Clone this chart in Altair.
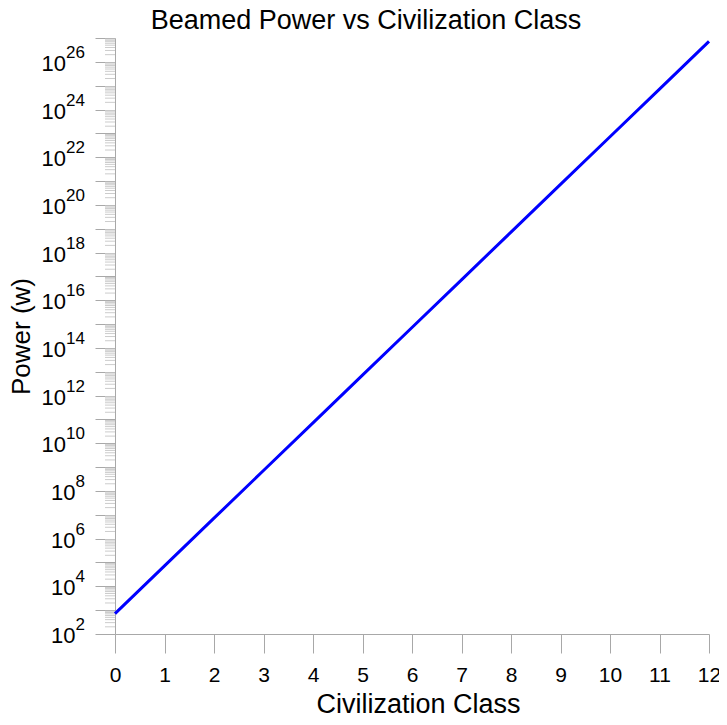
import altair as alt
import pandas as pd

# Data
classes = [0, 1, 2, 3, 4, 5, 6, 7, 8, 9, 10, 11, 12]
power_w = [7.2e2, 7.2e4, 7.2e6, 7.2e8, 7.2e10, 7.2e12, 7.2e14, 7.2e16,
           7.2e18, 7.2e20, 7.2e22, 7.2e24, 7.2e26]
x_ticks = [0, 1, 2, 3, 4, 5, 6, 7, 8, 9, 10, 11, 12]
major_exps = list(range(2, 28))
label_exps = [2, 4, 6, 8, 10, 12, 14, 16, 18, 20, 22, 24, 26]
minor_mults = [2, 3, 4, 5, 6, 7, 8, 9]
title_text = ["Beamed Power vs Civilization Class"]

FONT = "Liberation Sans"
AXIS_GREY = "#a8a8a8"
MINOR_GREY = "#cccccc"
W, H = 594, 596

df = pd.DataFrame({"cls": classes, "power": power_w})
minor_df = pd.DataFrame({"v": [m * 10.0 ** e for e in range(2, 27) for m in minor_mults]})
lab_df = pd.DataFrame({"e": label_exps})
lab_df["v"] = [10.0 ** e for e in label_exps]
lab_df["es"] = lab_df["e"].astype(str)
title_df = pd.DataFrame({"t": title_text})

yscale = alt.Scale(type="log", domain=[1e2, 1e27], nice=False)
yaxis = alt.Axis(
    values=[10.0 ** e for e in major_exps],
    labels=False,
    tickSize=20,
    tickColor=AXIS_GREY,
    domainColor=AXIS_GREY,
    grid=False,
    title="Power (w)",
    titleFont=FONT,
    titleFontSize=26,
    titleFontWeight="normal",
    titleColor="black",
    titleX=-94,
    titleY=H / 2,
    titleAngle=270,
    titleAlign="center",
    titleBaseline="middle",
)
xaxis = alt.Axis(
    values=x_ticks,
    tickSize=19,
    tickColor=AXIS_GREY,
    domainColor=AXIS_GREY,
    grid=False,
    labelFont=FONT,
    labelFontSize=21,
    labelColor="black",
    labelBaseline="alphabetic",
    labelPadding=28,
    labelFlush=False,
    title="Civilization Class",
    titleFont=FONT,
    titleFontSize=27,
    titleFontWeight="normal",
    titleColor="black",
    titleX=303,
    titleY=78,
    titleBaseline="alphabetic",
)

line = alt.Chart(df).mark_line(color="#0000ff", strokeWidth=3).encode(
    x=alt.X("cls:Q", scale=alt.Scale(domain=[0, 12], nice=False), axis=xaxis),
    y=alt.Y("power:Q", scale=yscale, axis=yaxis),
)

minor = alt.Chart(minor_df).mark_rule(color=MINOR_GREY, strokeWidth=1).encode(
    y=alt.Y("v:Q", scale=yscale, axis=yaxis),
    x=alt.value(-10),
    x2=alt.value(0),
)

base_lbl = alt.Chart(lab_df).transform_calculate(
    bx="-30 - length(datum.es) * 9.45", b="'10'"
).mark_text(font=FONT, fontSize=22, align="right", baseline="alphabetic", dy=9, color="black").encode(
    x=alt.X("bx:Q", scale=None),
    y=alt.Y("v:Q", scale=yscale, axis=yaxis),
    text="b:N",
)

exp_lbl = alt.Chart(lab_df).mark_text(font=FONT, fontSize=17, align="right", baseline="alphabetic", dy=-4, color="black").encode(
    x=alt.value(-30),
    y=alt.Y("v:Q", scale=yscale, axis=yaxis),
    text="es:N",
)

title = alt.Chart(title_df).mark_text(font=FONT, fontSize=27, align="center", baseline="alphabetic", color="black").encode(
    x=alt.value(251),
    y=alt.value(-9),
    text="t:N",
)

chart = alt.layer(minor, line, base_lbl, exp_lbl, title).properties(
    width=W,
    height=H,
    autosize=alt.AutoSizeParams(type="none"),
    padding={"left": 107, "top": 30, "right": 10, "bottom": 81},
).configure_view(stroke=None)

chart.save("out.html", embed_options={"renderer": "svg", "actions": False})
